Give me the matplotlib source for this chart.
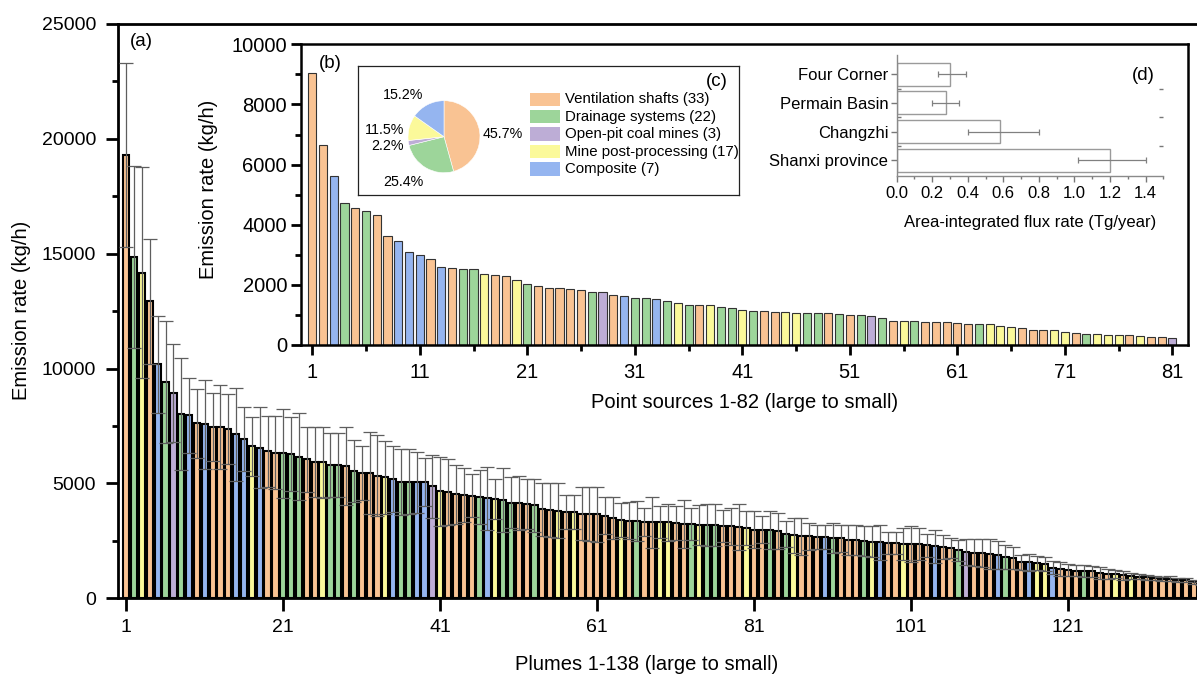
import numpy as np
import matplotlib
matplotlib.use('Agg')
import matplotlib.pyplot as plt
from matplotlib.patches import Rectangle
from matplotlib.ticker import MultipleLocator, FixedLocator

plt.rcParams['font.family'] = ['Liberation Sans', 'DejaVu Sans']

W, H = 1197, 677

COLORS = {'O': '#F9C393', 'G': '#9DD59A', 'P': '#BDADD6', 'Y': '#FBF99A', 'B': '#95B5F0'}

# ---------------- (a) plumes 1-138 ----------------
plume_values = [
    19300, 14860, 14180, 12925, 10180, 9420, 8940, 8020, 7960, 7610,
    7570, 7470, 7460, 7380, 7140, 6930, 6620, 6560, 6400, 6340,
    6310, 6280, 6170, 6050, 5950, 5920, 5810, 5800, 5750,
    5550, 5470, 5460, 5340, 5270, 5190, 5080, 5080, 5060, 5050,
    4870, 4650, 4630, 4520, 4480, 4460, 4400, 4360, 4330, 4290,
    4170, 4150, 4100, 4040, 3870, 3850, 3810, 3760, 3740, 3680,
    3670, 3650, 3600, 3480, 3420, 3370, 3350,
    3320, 3320, 3320, 3310, 3280, 3250, 3240, 3210, 3200, 3200,
    3160, 3130, 3100, 3060, 2990, 2990, 2960, 2920, 2800, 2740,
    2700, 2700, 2670, 2660, 2630, 2620, 2530, 2520, 2480, 2470,
    2440, 2410, 2410, 2370, 2370, 2370, 2300,
    2270, 2240, 2200, 2090, 2010, 1980, 1960, 1910, 1900, 1800,
    1750, 1570, 1560, 1530, 1490, 1330, 1290, 1230, 1200, 1180,
    1170, 1110, 1070, 1060, 1000, 980, 940, 925, 870, 850,
    850, 810, 800, 720, 650,
]
plume_errors = [
    4000, 3950, 4575, 2715, 2100, 2640, 2140, 2440, 1650, 1520,
    1920, 1480, 1820, 1530, 2020, 1400, 1290, 1750, 1540, 1600,
    1940, 1600, 1900, 1410, 1520, 1540, 1400, 1400, 1690,
    1340, 1170, 1780, 1760, 1590, 1440, 1440, 1420, 1330, 1040,
    1370, 1520, 1420, 1290, 1180, 940, 1180, 1370, 870, 1400,
    1130, 1180, 1100, 1150, 1140, 1160, 1200, 750, 740, 1150,
    1180, 1180, 800, 920, 750, 810, 870,
    610, 1110, 680, 810, 750, 1040, 690, 870, 920, 920,
    690, 800, 1010, 720, 790, 580, 820, 790, 550, 750,
    800, 580, 530, 510, 650, 590, 640, 650, 650, 660,
    770, 460, 480, 690, 770, 700, 520,
    720, 530, 430, 460, 550, 580, 600, 650, 610, 540,
    490, 330, 350, 300, 310, 290, 300, 250, 250, 270,
    250, 250, 220, 170, 190, 140, 120, 110, 95, 90,
    110, 85, 70, 80, 80,
]
plume_types = list(
    "OGYOBGPGBOBOOOBBYBOOGGGOOYGGO"
    "GOOOYBGGBBPYOOOOGBYGGOOGOOYOYOOOOOYOG"
    "OOYYOOGYGGOOOYOOGOGYOOOBGOOOGYBOOYOOO"
    "BOOGPOOOBGOOBYYBOOOGOOOYOYOOOOOOOOO"
)
plume_ticks = [1, 21, 41, 61, 81, 101, 121]

# ---------------- (b) point sources ----------------
point_values = [
    9056, 6651, 5631, 4711, 4567, 4456, 4323, 3625, 3459, 3082,
    2993, 2860, 2584, 2550, 2540, 2530, 2350, 2340, 2306, 2162, 2029,
    1973, 1906, 1884, 1851, 1829, 1773, 1773, 1663, 1630, 1574,
    1574, 1519, 1463, 1386, 1319, 1319, 1319, 1275, 1241, 1164,
    1142, 1130, 1108, 1086, 1053, 1053, 1053, 1053, 1020,
    1000, 998, 964, 887, 809, 809, 798, 776, 776, 776,
    743, 710, 688, 688, 632, 599, 565, 499, 499, 499,
    443, 410, 377, 377, 344, 344, 321, 310, 255, 255, 222,
]
point_types = list(
    "OOBGOGOOBBBOBOGGYOOYG"
    "OOOOOGPOBGGBGYGOYGGYGOOYYGGOGO"
    "GPGOYGOOOOOGYYYOOOYYOGYYYOYOOP"
)
point_ticks = [1, 11, 21, 31, 41, 51, 61, 71, 81]

# ---------------- (c) pie ----------------
source_labels = ['Ventilation shafts (33)', 'Drainage systems (22)',
                 'Open-pit coal mines (3)', 'Mine post-processing (17)',
                 'Composite (7)']
source_share = [45.7, 25.4, 2.2, 11.5, 15.2]
source_keys = ['O', 'G', 'P', 'Y', 'B']

# ---------------- (d) flux ----------------
regions = ['Four Corner', 'Permain Basin', 'Changzhi', 'Shanxi province']
flux = [0.30, 0.28, 0.58, 1.20]
flux_low = [0.23, 0.20, 0.40, 1.02]
flux_high = [0.39, 0.35, 0.80, 1.40]


def fbox(x0, y0, x1, y1):
    return [x0 / W, 1 - y1 / H, (x1 - x0) / W, (y1 - y0) / H]


def ftxt(x, y):
    return x / W, 1 - y / H


fig = plt.figure(figsize=(W / 100, H / 100), dpi=100)

# ======== main axes (a) ========
ax = fig.add_axes(fbox(118.45, 24, 1209.6, 598.3))
xa = np.arange(1, len(plume_values) + 1)
ax.bar(xa, plume_values, width=0.8, color=[COLORS[t] for t in plume_types],
       edgecolor='black', linewidth=1.5, zorder=2)
ax.errorbar(xa, plume_values, yerr=plume_errors, fmt='none', ecolor='#5e5e5e',
            elinewidth=0.9, capsize=5, capthick=0.9, zorder=3)
ax.set_xlim(0, 139)
ax.set_ylim(0, 25000)
ax.yaxis.set_major_locator(MultipleLocator(5000))
ax.yaxis.set_minor_locator(MultipleLocator(2500))
ax.xaxis.set_major_locator(FixedLocator(plume_ticks))
ax.tick_params(axis='both', which='major', direction='out', length=9, width=2,
               labelsize=14)
ax.tick_params(axis='y', which='major', pad=7)
ax.tick_params(axis='x', which='major', pad=6)
ax.tick_params(axis='y', which='minor', direction='out', length=4, width=2)
for s in ax.spines.values():
    s.set_linewidth(2)
fig.text(*ftxt(21.7, 310), 'Emission rate (kg/h)', rotation=90, ha='center',
         va='center', fontsize=14.5)
fig.text(*ftxt(647, 665), 'Plumes 1-138 (large to small)', ha='center',
         va='center', fontsize=14.5)
fig.text(*ftxt(141.7, 42), '(a)', ha='center', va='center', fontsize=13.5)

# ======== inset (b) ========
axb = fig.add_axes(fbox(301, 44.3, 1188, 345), zorder=2)
axb.set_facecolor('white')
xb = np.arange(1, len(point_values) + 1)
axb.bar(xb, point_values, width=0.76, color=[COLORS[t] for t in point_types],
        edgecolor='#333333', linewidth=0.8)
axb.set_xlim(-0.05, 82.45)
axb.set_ylim(0, 10000)
axb.yaxis.set_major_locator(MultipleLocator(2000))
axb.yaxis.set_minor_locator(MultipleLocator(1000))
axb.xaxis.set_major_locator(FixedLocator(point_ticks))
axb.xaxis.set_minor_locator(FixedLocator([6, 16, 26, 36, 46, 56, 66, 76]))
axb.tick_params(axis='both', which='major', direction='out', length=7, width=2,
                labelsize=14.5)
axb.tick_params(axis='both', which='minor', direction='out', length=4, width=2)
axb.tick_params(axis='y', which='major', pad=3)
axb.tick_params(axis='x', which='major', pad=6)
for s in axb.spines.values():
    s.set_linewidth(1.8)
axb.set_xlabel('Point sources 1-82 (large to small)', fontsize=14.5, labelpad=8)
fig.text(*ftxt(208.3, 189), 'Emission rate (kg/h)', rotation=90, ha='center',
         va='center', fontsize=14.5)
fig.text(*ftxt(330, 63.3), '(b)', ha='center', va='center', fontsize=13.5)

# ======== inset (c) frame + legend ========
axc = fig.add_axes(fbox(358, 66, 739, 195), zorder=3)
axc.set_facecolor('white')
axc.set_xlim(358, 739)
axc.set_ylim(195, 66)
axc.set_xticks([])
axc.set_yticks([])
for s in axc.spines.values():
    s.set_linewidth(0.9)
    s.set_color('#222222')
row_y = [99.3, 116.7, 134.0, 151.7, 169.0]
for yy, lab, key in zip(row_y, source_labels, source_keys):
    axc.add_patch(Rectangle((530, yy - 6.8), 30, 13.6, facecolor=COLORS[key],
                            edgecolor='none'))
    axc.text(565.5, yy, lab, ha='left', va='center', fontsize=10.8)
axc.text(716.7, 81.7, '(c)', ha='center', va='center', fontsize=13.5)

# pie
axp = fig.add_axes(fbox(408, 100.7, 480, 172.7), zorder=4)
axp.pie(source_share, colors=[COLORS[k] for k in source_keys], startangle=90,
        counterclock=False, radius=1.0,
        wedgeprops=dict(edgecolor='white', linewidth=0.4))
axp.set_xlim(-1.0, 1.0)
axp.set_ylim(-1.0, 1.0)
axp.set_aspect('equal')
pct_pos = [(503, 134.5), (403, 181.5), (387, 146.5), (385, 130), (403, 95)]
for (px_, py_), v in zip(pct_pos, source_share):
    fig.text(*ftxt(px_, py_), f'{v:.1f}%', ha='center', va='center',
             fontsize=10.3, zorder=5)

# ======== inset (d) ========
axd = fig.add_axes(fbox(896.7, 55, 1163.3, 176), zorder=3)
axd.set_facecolor('white')
yd = np.arange(len(regions))[::-1]
flux_arr = np.array(flux)
xerr = [flux_arr - np.array(flux_low), np.array(flux_high) - flux_arr]
axd.barh(yd, flux, height=0.8, color='white', edgecolor='#9a9a9a', linewidth=1.0)
axd.errorbar(flux, yd, xerr=xerr, fmt='none', ecolor='#808080', elinewidth=0.9,
             capsize=2, capthick=0.9)
axd.set_xlim(0, 1.5)
axd.set_ylim(-0.55, 3.67)
axd.set_yticks(yd)
axd.set_yticklabels(regions)
axd.xaxis.set_major_locator(MultipleLocator(0.2))
axd.xaxis.set_minor_locator(MultipleLocator(0.1))
axd.yaxis.set_minor_locator(FixedLocator([0.5, 1.5, 2.5]))
axd.tick_params(axis='both', which='major', direction='out', length=4, width=1,
                color='#777777', labelsize=12, pad=2)
axd.tick_params(axis='both', which='minor', direction='out', length=2, width=1,
                color='#777777')
axd.tick_params(axis='y', which='minor', right=True, direction='in', length=3)
axd.tick_params(axis='x', which='major', pad=3)
axd.spines['top'].set_visible(False)
axd.spines['right'].set_visible(False)
for s in ('left', 'bottom'):
    axd.spines[s].set_linewidth(1.0)
    axd.spines[s].set_color('#8a8a8a')
axd.set_xlabel('Area-integrated flux rate (Tg/year)', fontsize=12, labelpad=10)
fig.text(*ftxt(1143.3, 75), '(d)', ha='center', va='center', fontsize=13.5,
         zorder=6)

fig.savefig('out.png', dpi=100)
